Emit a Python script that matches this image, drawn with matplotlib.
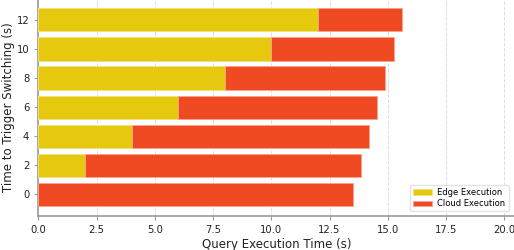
import matplotlib
matplotlib.use("Agg")
import matplotlib.pyplot as plt

switch_times = [0, 2, 4, 6, 8, 10, 12]
edge_exec = [0, 2, 4, 6, 8, 10, 12]
cloud_exec = [13.5, 11.85, 10.2, 8.55, 6.9, 5.25, 3.6]
x_ticks = [0.0, 2.5, 5.0, 7.5, 10.0, 12.5, 15.0, 17.5, 20.0]

edge_color = "#E6C90F"
cloud_color = "#F04A23"

fig = plt.figure(figsize=(5.14, 2.5), dpi=100)
W, H = 514, 250
x0, x1 = 38.3, 38.3 + 20.5 * 23.3
y_bottom, y_top = 216, -1.7
ax = fig.add_axes([x0 / W, 1 - y_bottom / H, (x1 - x0) / W, (y_bottom - y_top) / H])

ax.barh(switch_times, edge_exec, height=1.6, color=edge_color,
        edgecolor="#F3E27A", linewidth=0.6, label="Edge Execution", zorder=3)
ax.barh(switch_times, cloud_exec, left=edge_exec, height=1.6, color=cloud_color,
        edgecolor="#F7A58F", linewidth=0.6, label="Cloud Execution", zorder=3)

ax.set_xlim(0, 20.5)
ax.set_ylim(-1.48, 13.48)
ax.set_xticks(x_ticks)
ax.set_xticklabels([f"{t:.1f}" for t in x_ticks])
ax.set_yticks(switch_times)
ax.grid(axis="x", linestyle="--", color="#DDDDDD", linewidth=0.7, zorder=0)
for s in ["top", "right"]:
    ax.spines[s].set_visible(False)
for s in ["left", "bottom"]:
    ax.spines[s].set_color("#999999")
    ax.spines[s].set_linewidth(1.2)
ax.tick_params(colors="#999999", labelcolor="#222222", labelsize=7.2, length=3, width=0.8)
ax.set_xlabel("Query Execution Time (s)", fontsize=8.5, color="#222222", labelpad=2)
ax.set_ylabel("Time to Trigger Switching (s)", fontsize=8.5, color="#222222", labelpad=1)
leg = ax.legend(loc="lower right", bbox_to_anchor=((511 - x0) / (x1 - x0), 0.01),
                borderaxespad=0.3,
                fontsize=6, frameon=True, handlelength=2.2, borderpad=0.35,
                labelspacing=0.3, handletextpad=0.7)
leg.get_frame().set_edgecolor("#DDDDDD")
fig.savefig("out.png", dpi=100)
